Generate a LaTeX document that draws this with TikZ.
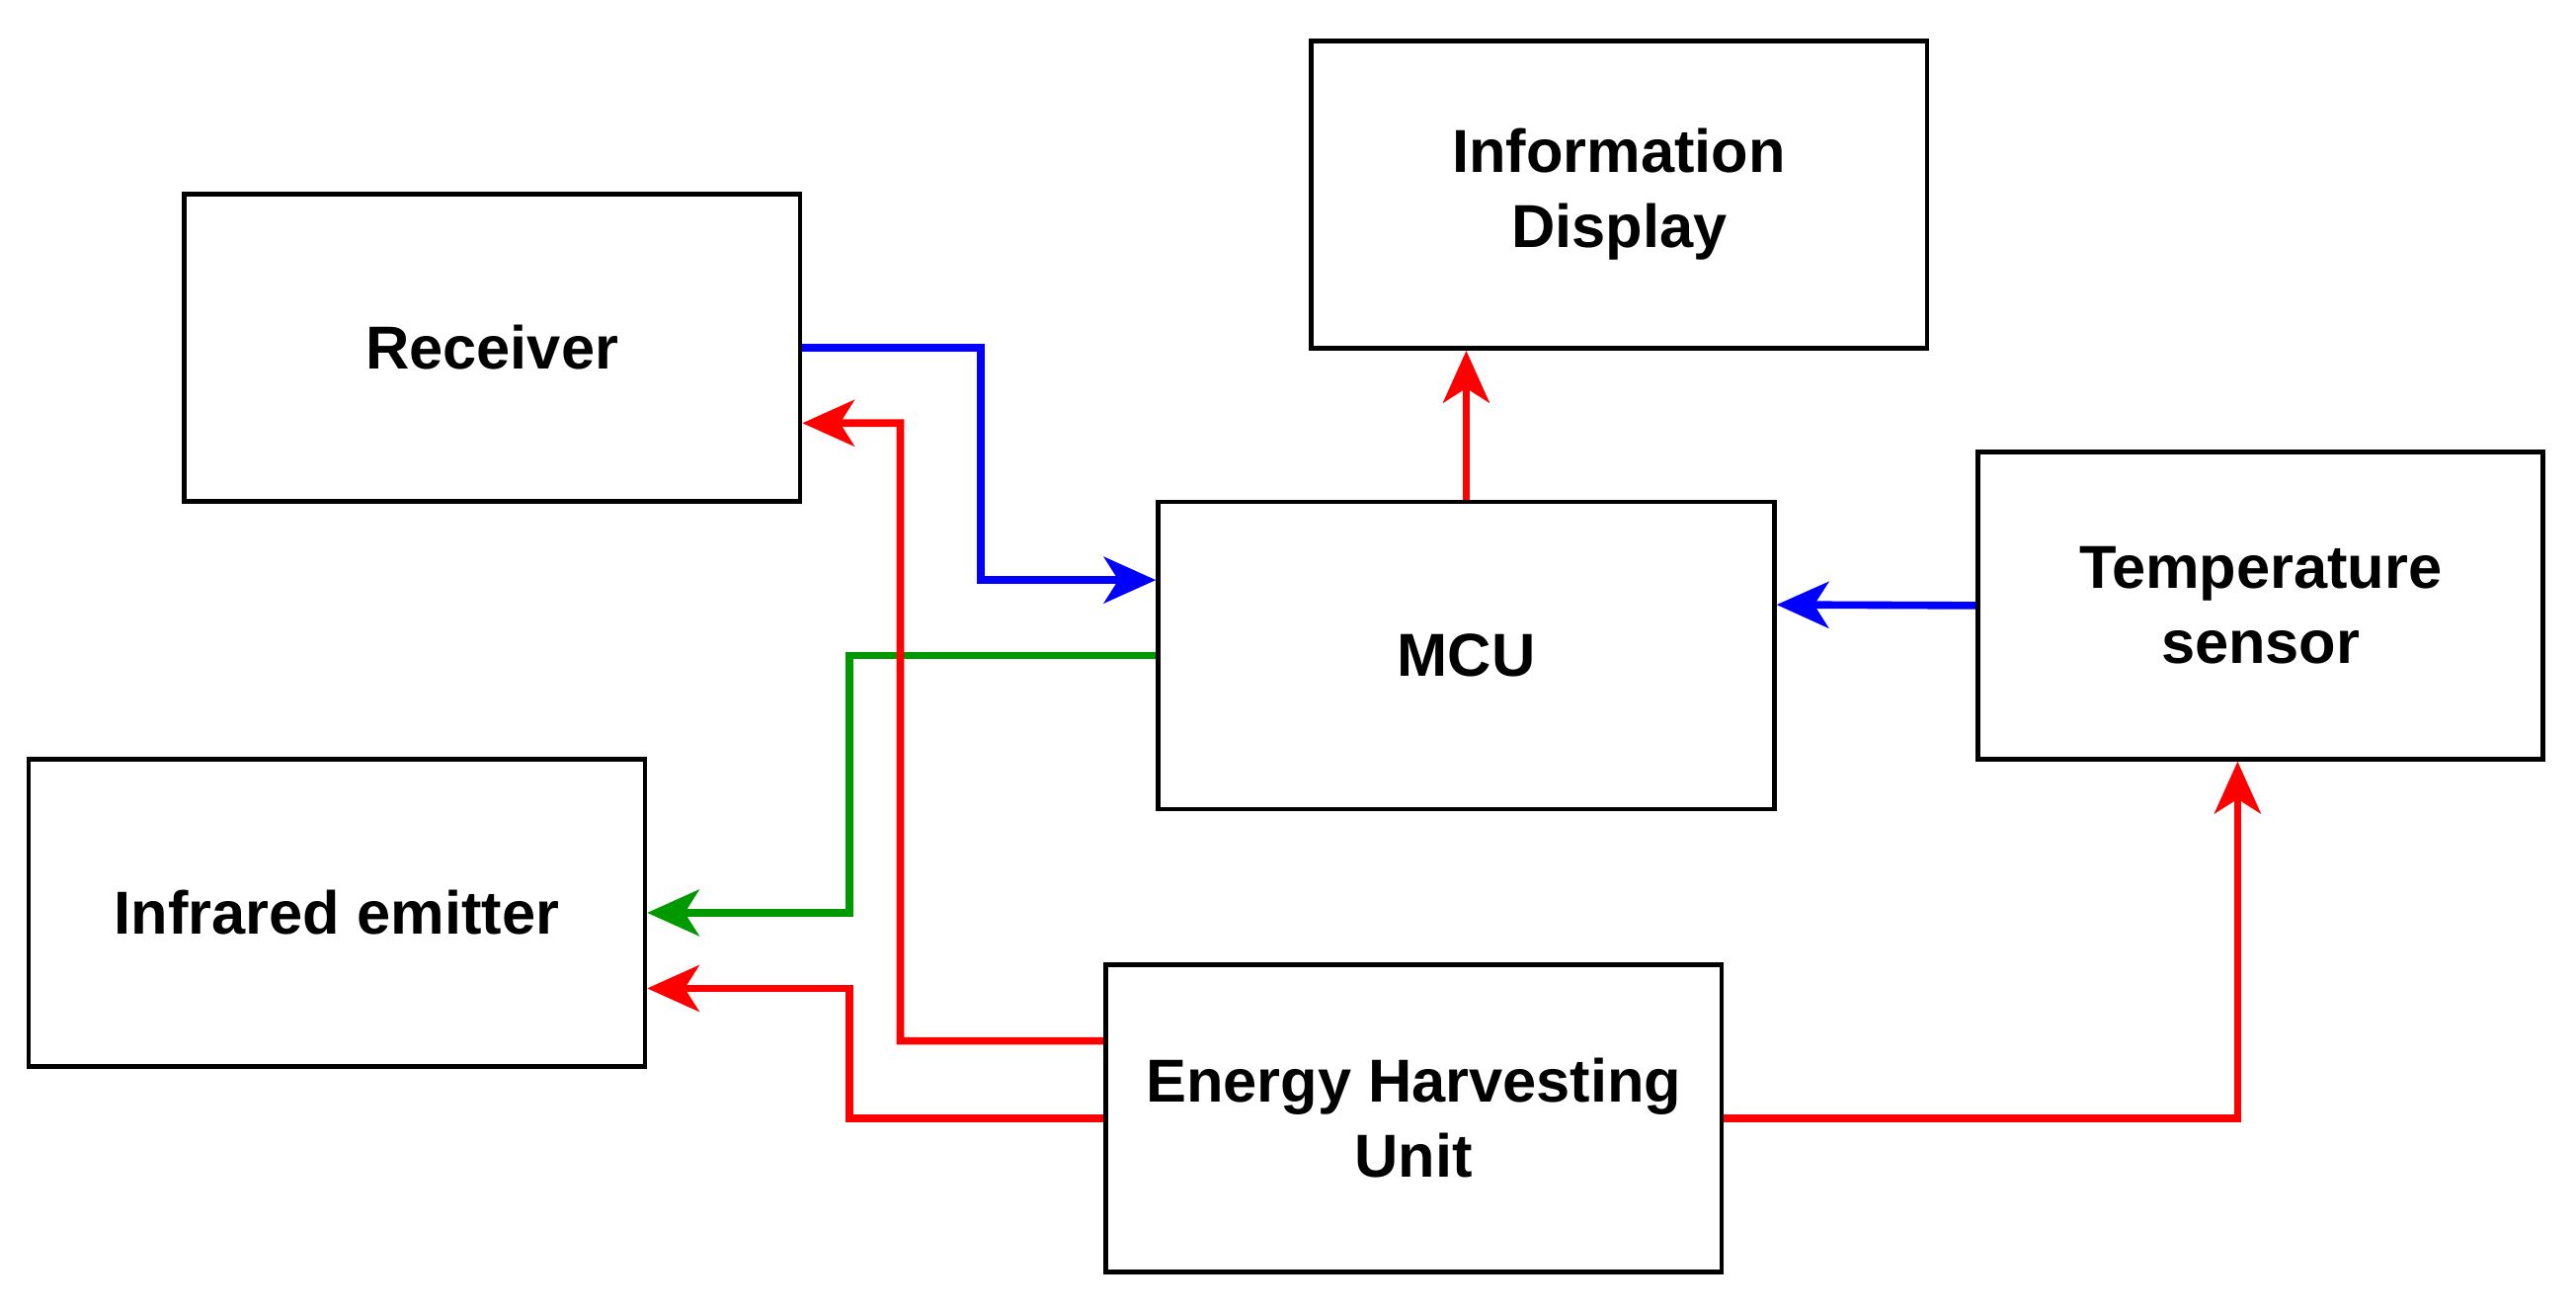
\documentclass[tikz,border=0pt]{standalone}
\usepackage{fontspec}
\setmainfont{Liberation Sans}
\usetikzlibrary{arrows.meta}
\tikzstyle{block} = [draw, rectangle, line width=0.8pt, minimum width=3.75cm,
minimum height=1.87cm, align=center, font=\fontsize{10.5}{13}\selectfont\bfseries]
\tikzstyle{line} = [draw, line width=1.3pt, -{Stealth[length=9pt,width=8pt,inset=2.5pt]}]
\begin{document}
\begin{tikzpicture}
    \useasboundingbox (0,0) rectangle (15.68,-7.98);
    \node[block] (rec) at (2.995,-2.115) {Receiver};
    \node[block] (disp) at (9.855,-1.185) {Information\\Display};
    \node[block] (mcu) at (8.925,-3.99) {MCU};
    \node[block, minimum width=3.44cm] (temp) at (13.76,-3.685) {Temperature\\sensor};
    \node[block] (ir) at (2.05,-5.555) {Infrared emitter};
    \node[block] (ehu) at (8.605,-6.805) {Energy Harvesting\\Unit};
    %% data
    \path [line, blue] (rec.east) -- (5.97,-2.115) |- ([yshift=0.46cm]mcu.west);
    \path [line, blue] (temp.west) -- ([yshift=0.31cm]mcu.east);
    \path [line, green!60!black] (mcu.west) -- (5.17,-3.99) |- (ir.east);
    %% power
    \path [line, red] ([yshift=0.47cm]ehu.west) -- (5.48,-6.335) |- ([yshift=-0.46cm]rec.east);
    \path [line, red] (ehu.west) -- (5.17,-6.805) |- ([yshift=-0.46cm]ir.east);
    \path [line, red] (mcu.north) -- (mcu.north |- disp.south);
    \path [line, red] (ehu.east) -| ([xshift=-0.14cm]temp.south);
\end{tikzpicture}
\end{document}
